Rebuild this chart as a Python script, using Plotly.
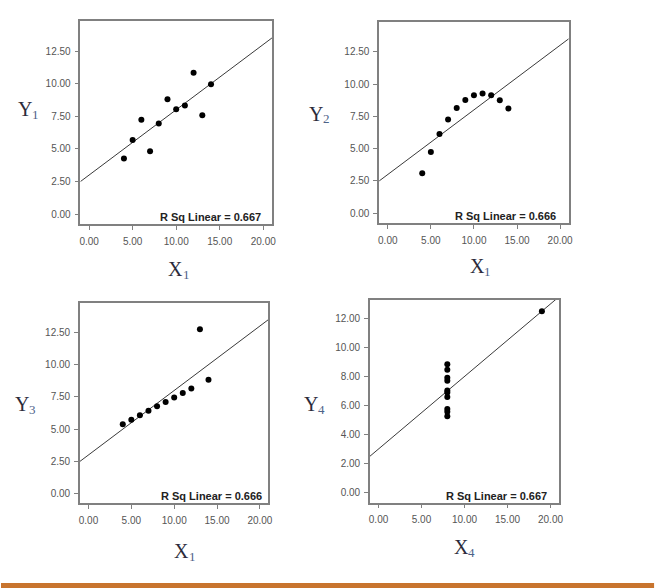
import numpy as np
import plotly.graph_objects as go

# Anscombe-style data
x123 = [10, 8, 13, 9, 11, 14, 6, 4, 12, 7, 5]
y1 = [8.04, 6.95, 7.58, 8.81, 8.33, 9.96, 7.24, 4.26, 10.84, 4.82, 5.68]
y2 = [9.14, 8.14, 8.74, 8.77, 9.26, 8.10, 6.13, 3.10, 9.13, 7.26, 4.74]
y3 = [7.46, 6.77, 12.74, 7.11, 7.81, 8.84, 6.08, 5.39, 8.15, 6.42, 5.73]
x4 = [8, 8, 8, 8, 8, 8, 8, 19, 8, 8, 8]
y4 = [6.58, 5.76, 7.71, 8.84, 8.47, 7.04, 5.25, 12.50, 5.56, 7.91, 6.89]
r2_labels = ["R Sq Linear = 0.667", "R Sq Linear = 0.666", "R Sq Linear = 0.666", "R Sq Linear = 0.667"]
x_subs = ["1", "1", "1", "4"]
y_subs = ["1", "2", "3", "4"]
x_ticks = [0, 5, 10, 15, 20]
y_ticks_a = [0, 2.5, 5, 7.5, 10, 12.5]
y_ticks_b = [0, 2, 4, 6, 8, 10, 12]

W, H = 669, 588

def px_x(v):
    return v / W

def px_y(v):
    return 1 - v / H

panels = [
    dict(x=x123, y=y1, box=(80, 273, 21, 224), yr=[-0.75, 14.8], yt=y_ticks_a,
         ann_right=263, ylab=(24, 109), xlab=(176, 269)),
    dict(x=x123, y=y2, box=(381, 572, 22, 223), yr=[-0.75, 14.8], yt=y_ticks_a,
         ann_right=560, ylab=(317, 114), xlab=(480, 266)),
    dict(x=x123, y=y3, box=(79.5, 269.5, 303, 503), yr=[-0.72, 14.78], yt=y_ticks_a,
         ann_right=263.5, ylab=(21, 404), xlab=(182, 551)),
    dict(x=x4, y=y4, box=(371.7, 562.3, 300, 502.7), yr=[-0.7, 13.27], yt=y_ticks_b,
         ann_right=551, ylab=(312, 404), xlab=(464, 547)),
]

xr = [-1, 21]
fig = go.Figure()
annotations = []
layout_axes = {}
frame_col = "#808080"
tick_font = dict(family="Liberation Sans, Arial, sans-serif", size=10, color="#555555")
serif = "Liberation Serif, Times New Roman, serif"
main_font = dict(family=serif, size=20, color="#2b2b3b")
sub_font = dict(family=serif, size=13, color="#4d6288")


def add_label(letter, sub, cx, cy):
    annotations.append(dict(
        text=letter, xref="paper", yref="paper", x=px_x(cx), y=px_y(cy),
        xanchor="center", yanchor="middle", showarrow=False, font=main_font,
    ))
    annotations.append(dict(
        text=sub, xref="paper", yref="paper", x=px_x(cx + 5), y=px_y(cy + 5),
        xanchor="left", yanchor="middle", showarrow=False, font=sub_font,
    ))


for i, p in enumerate(panels):
    n = "" if i == 0 else str(i + 1)
    xa, ya = "x" + n, "y" + n
    l, r, t, b = p["box"]
    layout_axes["xaxis" + n] = dict(
        domain=[px_x(l), px_x(r)], range=xr, anchor=ya, tickvals=x_ticks,
        tickformat=".2f", showgrid=False, zeroline=False, showline=True, mirror=True,
        linecolor=frame_col, linewidth=1.5, ticks="outside", ticklen=4, tickwidth=1,
        tickcolor=frame_col, tickfont=tick_font, ticklabelstandoff=3,
    )
    layout_axes["yaxis" + n] = dict(
        domain=[px_y(b), px_y(t)], range=p["yr"], anchor=xa, tickvals=p["yt"],
        tickformat=".2f", showgrid=False, zeroline=False, showline=True, mirror=True,
        linecolor=frame_col, linewidth=1.5, ticks="outside", ticklen=4, tickwidth=1,
        tickcolor=frame_col, tickfont=tick_font, ticklabelstandoff=2,
    )
    slope, icpt = np.polyfit(p["x"], p["y"], 1)
    lx = np.array(xr, dtype=float)
    fig.add_trace(go.Scatter(x=lx, y=icpt + slope * lx, mode="lines", xaxis=xa, yaxis=ya,
                             line=dict(color="#3a3a3a", width=1), showlegend=False,
                             hoverinfo="skip"))
    fig.add_trace(go.Scatter(x=p["x"], y=p["y"], mode="markers", xaxis=xa, yaxis=ya,
                             marker=dict(color="black", size=6), showlegend=False))
    annotations.append(dict(
        text="<b>" + r2_labels[i] + "</b>", xref="paper", yref="paper",
        x=px_x(p["ann_right"]), y=px_y(b), xanchor="right", yanchor="bottom",
        showarrow=False, font=dict(family="Liberation Sans, Arial, sans-serif", size=11,
                                   color="#222222"), borderpad=0,
    ))
    add_label("Y", y_subs[i], *p["ylab"])
    add_label("X", x_subs[i], *p["xlab"])

fig.update_layout(
    width=W, height=H, margin=dict(l=0, r=0, t=0, b=0),
    paper_bgcolor="white", plot_bgcolor="white",
    annotations=annotations,
    shapes=[dict(type="rect", xref="paper", yref="paper", x0=0, x1=px_x(658),
                 y0=px_y(588), y1=px_y(583), fillcolor="#c8742e", line=dict(width=0))],
    **layout_axes,
)

fig.write_html("out.html")
